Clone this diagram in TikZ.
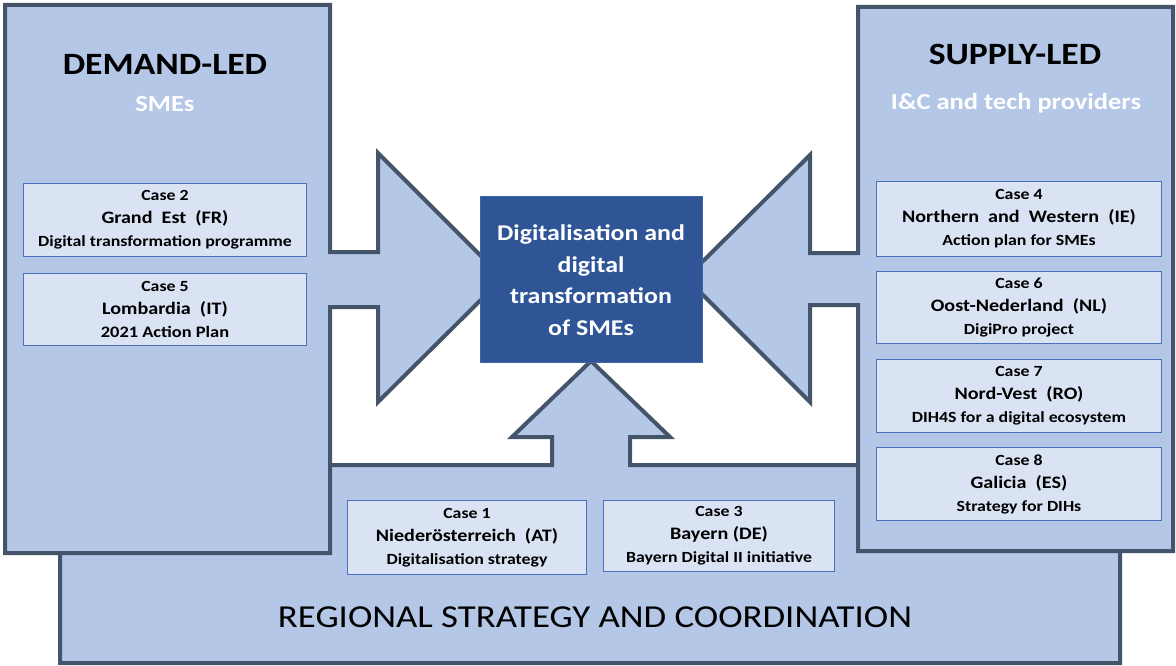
\documentclass[tikz,border=0pt]{standalone}
\usepackage{fontspec}
\setmainfont[FakeStretch=1.15]{Carlito}
\definecolor{lightfill}{HTML}{B4C7E7}
\definecolor{darkline}{HTML}{44546A}
\definecolor{casefill}{HTML}{DAE3F3}
\definecolor{caseborder}{HTML}{4A72BE}
\definecolor{centerfill}{HTML}{2F5597}
\definecolor{centerborder}{HTML}{3A66AA}
\begin{document}
\begin{tikzpicture}[x=1pt,y=-1pt,
  shapeline/.style={draw=darkline, line width=4pt, fill=lightfill, line join=miter},
  casebox/.style={draw=caseborder, line width=1pt, fill=casefill, anchor=north west,
    align=center, inner sep=0pt, font=\fontsize{15.5}{23}\selectfont\bfseries},
  bigname/.style={font=\fontsize{17.5}{23}\selectfont\bfseries},
  titletext/.style={anchor=base, inner sep=0pt, font=\fontsize{31}{37}\selectfont\bfseries},
  subtext/.style={anchor=base, inner sep=0pt, text=white, font=\fontsize{23}{28}\selectfont\bfseries},
]
\useasboundingbox (0,0) rectangle (1176,666);

% Regional strategy shape with up arrow
\draw[shapeline] (60,465) -- (552,465) -- (552,437) -- (512,437) -- (591,361)
  -- (670,437) -- (630,437) -- (630,465) -- (1120,465) -- (1120,663) -- (60,663) -- cycle;

% Demand-led shape with right arrow
\draw[shapeline] (5,5) -- (330,5) -- (330,252) -- (378,252) -- (378,153) -- (503,278)
  -- (378,402) -- (378,307) -- (330,307) -- (330,553) -- (5,553) -- cycle;

% Supply-led shape with left arrow
\draw[shapeline] (858,7) -- (1173,7) -- (1173,551) -- (858,551) -- (858,305) -- (810,305)
  -- (810,402) -- (686,278) -- (810,155) -- (810,253) -- (858,253) -- cycle;

% Titles
\node[titletext] (demand) at (165,75) {DEMAND-LED};
\node[subtext] (smes) at (165,112) {SMEs};
\node[titletext] (supply) at (1015,65) {SUPPLY-LED};
\node[subtext] (providers) at (1016,110) {I\&C and tech providers};
\node[anchor=base, inner sep=0pt, font=\fontsize{32}{38}\selectfont] (regional) at (595,627)
  {REGIONAL STRATEGY AND COORDINATION};

% Case boxes
\node[casebox, minimum width=283pt, minimum height=73pt] (c2) at (23,183)
  {Case 2\\{\fontsize{17.5}{23}\selectfont Grand\ \ Est\ \ (FR)}\\{\fontsize{15.5}{23}\selectfont Digital transformation programme}};
\node[casebox, minimum width=283pt, minimum height=72pt] (c5) at (23,273)
  {Case 5\\{\fontsize{17.5}{23}\selectfont Lombardia\ \ (IT)}\\{\fontsize{16}{23}\selectfont 2021 Action Plan}};
\node[casebox, minimum width=285pt, minimum height=75pt] (c4) at (876,181)
  {Case 4\\{\fontsize{17.5}{23}\selectfont Northern\ \ and\ \ Western\ \ (IE)}\\{\fontsize{15.5}{23}\selectfont Action plan for SMEs}};
\node[casebox, minimum width=285pt, minimum height=72pt] (c6) at (876,271)
  {Case 6\\{\fontsize{17.5}{23}\selectfont Oost-Nederland\ \ (NL)}\\{\fontsize{15.5}{23}\selectfont DigiPro project}};
\node[casebox, minimum width=285pt, minimum height=73pt] (c7) at (876,359)
  {Case 7\\{\fontsize{17.5}{23}\selectfont Nord-Vest\ \ (RO)}\\{\fontsize{15.5}{23}\selectfont DIH4S for a digital ecosystem}};
\node[casebox, minimum width=285pt, minimum height=73pt] (c8) at (876,447)
  {Case 8\\{\fontsize{17.5}{23}\selectfont Galicia\ \ (ES)}\\{\fontsize{15.5}{23}\selectfont Strategy for DIHs}};
\node[casebox, minimum width=239pt, minimum height=74pt] (c1) at (347,500)
  {Case 1\\{\fontsize{17.5}{23}\selectfont Nieder\"osterreich\ \ (AT)}\\{\fontsize{15.5}{23}\selectfont Digitalisation strategy}};
\node[casebox, minimum width=231pt, minimum height=71pt] (c3) at (603,500)
  {Case 3\\{\fontsize{17.5}{23}\selectfont Bayern (DE)}\\{\fontsize{15.5}{23}\selectfont Bayern Digital II initiative}};

% Central box
\node[draw=centerborder, line width=1pt, fill=centerfill, anchor=north west,
  minimum width=222pt, minimum height=166pt, inner sep=0pt] (core) at (480,196) {};
\node[align=center, text=white, inner sep=0pt, font=\fontsize{22.5}{31.5}\selectfont\bfseries]
  (coretext) at (591,280) {Digitalisation and\\digital\\transformation\\of SMEs};
\end{tikzpicture}
\end{document}
